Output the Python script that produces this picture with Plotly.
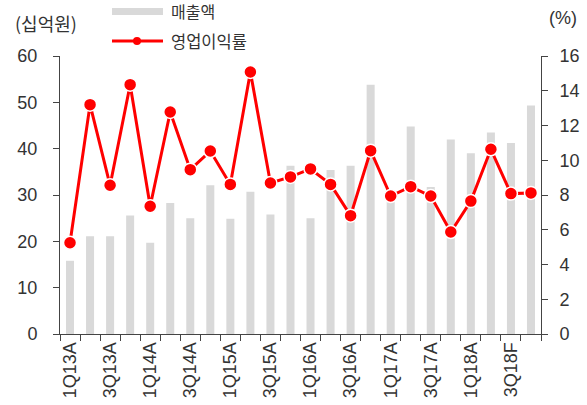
import plotly.graph_objects as go

categories = ["1Q13A","2Q13A","3Q13A","4Q13A","1Q14A","2Q14A","3Q14A","4Q14A",
              "1Q15A","2Q15A","3Q15A","4Q15A","1Q16A","2Q16A","3Q16A","4Q16A",
              "1Q17A","2Q17A","3Q17A","4Q17A","1Q18A","2Q18A","3Q18F","4Q18F"]
tick_labels = [c if i % 2 == 0 else "" for i, c in enumerate(categories)]
sales = [15.8, 21.1, 21.1, 25.6, 19.7, 28.3, 25.0, 32.1, 24.9, 30.7, 25.8, 36.3,
         25.0, 35.4, 36.3, 53.8, 30.0, 44.8, 31.7, 42.0, 39.0, 43.5, 41.2, 49.3]
margin_pct = [5.25, 13.2, 8.56, 14.35, 7.35, 12.78, 9.46, 10.53, 8.61, 15.08, 8.69, 9.04,
              9.5, 8.61, 6.81, 10.55, 7.94, 8.48, 7.94, 5.87, 7.65, 10.63, 8.08, 8.12]

FONT = "Liberation Sans, Noto Sans CJK KR, sans-serif"
KFONT = "Noto Sans CJK KR, sans-serif"
TXT = "#333333"
AX = "#444444"

fig = go.Figure()
fig.add_trace(go.Bar(x=categories, y=sales, marker_color="#d9d9d9", marker_line_width=0,
                     name="매출액", yaxis="y"))
fig.add_trace(go.Scatter(x=categories, y=margin_pct, mode="lines+markers", name="영업이익률",
                         line=dict(color="#ff0000", width=3),
                         marker=dict(color="#ff0000", size=13, line=dict(color="white", width=1.5)),
                         yaxis="y2", cliponaxis=False))

L, R, T, B = 60, 541, 56, 334
W, H = R - L, B - T
def px(x): return (x - L) / W
def py(y): return (B - y) / H

shapes = [
    dict(type="rect", xref="paper", yref="paper", x0=px(112), x1=px(163), y0=py(15), y1=py(8),
         fillcolor="#d9d9d9", line_width=0),
    dict(type="line", xref="paper", yref="paper", x0=px(112), x1=px(163), y0=py(41), y1=py(41),
         line=dict(color="#ff0000", width=3)),
    dict(type="circle", xref="paper", yref="paper", x0=px(133), x1=px(141), y0=py(45), y1=py(37),
         fillcolor="#ff0000", line_width=0),
]
annotations = [
    dict(text="매출액", x=px(169), y=py(11), xref="paper", yref="paper", xanchor="left",
         yanchor="middle", showarrow=False, font=dict(family=KFONT, size=16, color=TXT)),
    dict(text="영업이익률", x=px(169), y=py(41), xref="paper", yref="paper", xanchor="left",
         yanchor="middle", showarrow=False, font=dict(family=KFONT, size=16.5, color=TXT)),
    dict(text="(십억원)", x=px(13), y=py(23), xref="paper", yref="paper", xanchor="left",
         yanchor="middle", showarrow=False, font=dict(family=KFONT, size=18, color=TXT)),
    dict(text="(%)", x=px(579), y=py(18), xref="paper", yref="paper", xanchor="right",
         yanchor="middle", showarrow=False, font=dict(family=FONT, size=18, color=TXT)),
]

fig.update_layout(
    width=587, height=405,
    margin=dict(l=L, r=587 - R, t=T, b=405 - B, autoexpand=False),
    plot_bgcolor="white", paper_bgcolor="white",
    showlegend=False, bargap=0.6,
    font=dict(family=FONT, size=18, color=TXT),
    xaxis=dict(type="category", categoryorder="array", categoryarray=categories,
               range=[-0.5, len(categories) - 0.5],
               tickmode="array", tickvals=categories, ticktext=tick_labels,
               tickson="boundaries", ticks="outside", ticklen=6, tickcolor=AX,
               tickangle=-90, showline=True, linecolor=AX, linewidth=1, automargin=False,
               showgrid=False, zeroline=False, tickfont=dict(size=18)),
    yaxis=dict(range=[0, 60], dtick=10, ticks="outside", ticklen=6, tickcolor=AX,
               showline=True, linecolor=AX, linewidth=1, showgrid=False, zeroline=False,
               ticklabelstandoff=12, automargin=False),
    yaxis2=dict(range=[0, 16], dtick=2, overlaying="y", side="right", ticks="outside",
                ticklen=6, tickcolor=AX, showline=True, linecolor=AX, linewidth=1,
                showgrid=False, zeroline=False, ticklabelstandoff=8, automargin=False),
    shapes=shapes, annotations=annotations,
)

fig.write_html("out.html", config={"displayModeBar": False},
               post_script="document.body.style.margin='0';")
